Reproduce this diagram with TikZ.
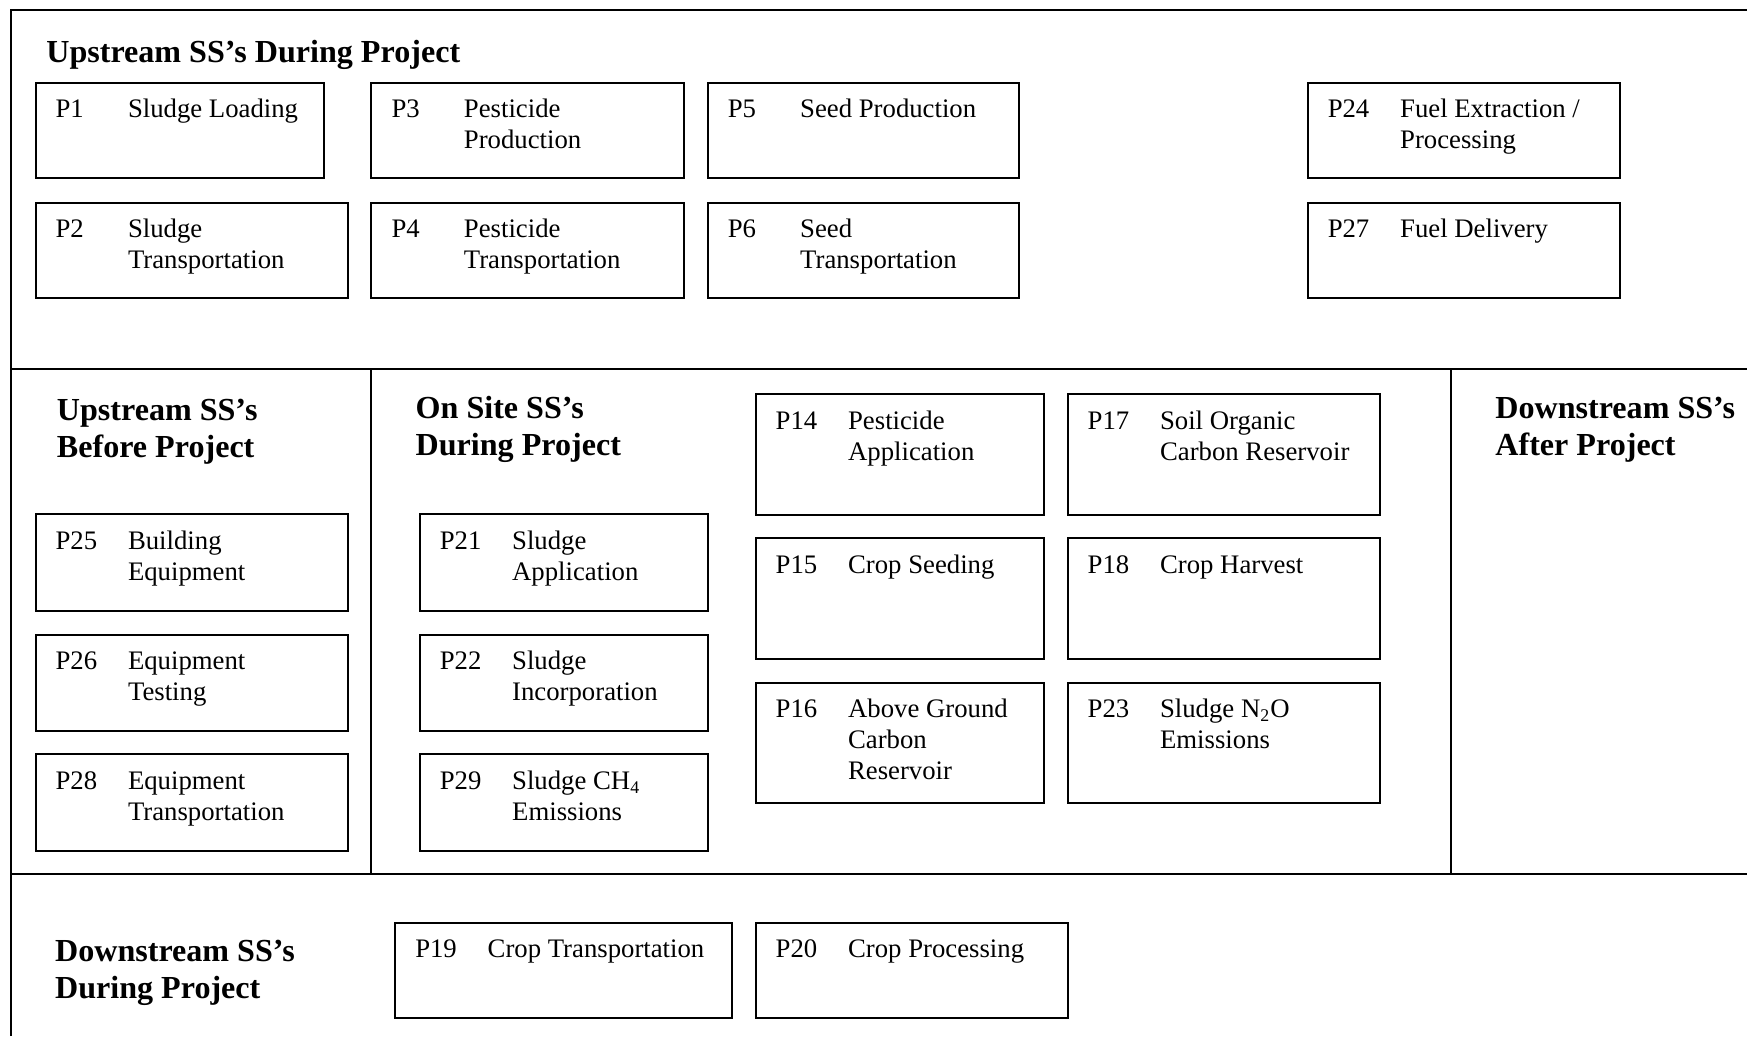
\documentclass[tikz,border=0pt]{standalone}
\usepackage{fontspec}
\setmainfont{Liberation Serif}
\usepackage{tikz}

\begin{document}
\begin{tikzpicture}[x=0.5pt, y=-0.5pt,
    frame/.style={line width=0.9pt},
    ssbox/.style={draw, line width=0.9pt, inner sep=0pt, anchor=north west},
    ssnum/.style={inner sep=0pt, anchor=north west, font=\fontsize{12}{14}\selectfont},
    sstext/.style={inner sep=0pt, anchor=north west, align=left, font=\fontsize{12}{14}\selectfont},
    sshead/.style={inner sep=0pt, anchor=north west, align=left, font=\fontsize{14.4}{16.5}\selectfont\bfseries}]
    \useasboundingbox (0,0) rectangle (1568,930);
    \draw[frame] (9.5,930) -- (9.5,9) -- (1568,9);
    \draw[frame] (9.5,331.5) -- (1568,331.5);
    \draw[frame] (9.5,784) -- (1568,784);
    \draw[frame] (332.8,331.5) -- (332.8,784);
    \draw[frame] (1302.3,331.5) -- (1302.3,784);

    \node[sshead] (updur) at (41.2,32.2) {\strut Upstream SS’s During Project};
    \node[sshead] (upbef) at (50.7,353.9) {\strut Upstream SS’s\\Before Project};
    \node[sshead] (onsite) at (372.7,351.9) {\strut On Site SS’s\\During Project};
    \node[sshead] (dnaft) at (1341.8,352.4) {\strut Downstream SS’s\\After Project};
    \node[sshead] (dndur) at (49.1,839.9) {\strut Downstream SS’s\\During Project};

    \foreach \id/\x/\y/\w/\h/\num/\txt in {
        p1/31/73.3/259.3/85.5/P1/{Sludge Loading},
        p2/31/181/280.5/85.8/P2/{Sludge\\Transportation},
        p3/332.5/73.3/280.2/85.5/P3/{Pesticide\\Production},
        p4/332.5/181/280.2/85.8/P4/{Pesticide\\Transportation},
        p5/634.3/73.3/279.7/85.5/P5/{Seed Production},
        p6/634.3/181/279.7/85.8/P6/{Seed\\Transportation},
        p24/1172.8/73.3/280.2/85.5/P24/{Fuel Extraction /\\Processing},
        p27/1172.8/181/280.2/85.8/P27/{Fuel Delivery},
        p25/31/460.7/280.8/86.5/P25/{Building\\Equipment},
        p26/31/568.7/280.8/86.2/P26/{Equipment\\Testing},
        p28/31/676.1/280.8/86.8/P28/{Equipment\\Transportation},
        p21/375.8/460.7/258.9/86.5/P21/{Sludge\\Application},
        p22/375.8/568.7/258.9/86.2/P22/{Sludge\\Incorporation},
        p29/375.8/676.1/258.9/86.8/P29/{Sludge CH\textsubscript{4}\\Emissions},
        p14/677.3/353/259/108.3/P14/{Pesticide\\Application},
        p15/677.3/482.3/259/108.3/P15/{Crop Seeding},
        p16/677.3/611.8/259/108/P16/{Above Ground\\Carbon\\Reservoir},
        p17/957.3/353/280.6/108.3/P17/{Soil Organic\\Carbon Reservoir},
        p18/957.3/482.3/280.6/108.3/P18/{Crop Harvest},
        p23/957.3/611.8/280.6/108/P23/{Sludge N\textsubscript{2}O\\Emissions},
        p19/353.8/827.2/302.6/85.3/P19/{Crop Transportation},
        p20/677.3/827.2/280.2/85.3/P20/{Crop Processing}} {
        \node[ssbox, minimum width=\w*0.5pt, minimum height=\h*0.5pt] (\id) at (\x,\y) {};
        \node[ssnum] (\id-n) at ([xshift=9.25pt, yshift=-6.1pt]\id.north west) {\strut\num};
        \node[sstext] (\id-t) at ([xshift=32.5pt]\id-n.north west) {\strut\txt};
    }
\end{tikzpicture}
\end{document}
